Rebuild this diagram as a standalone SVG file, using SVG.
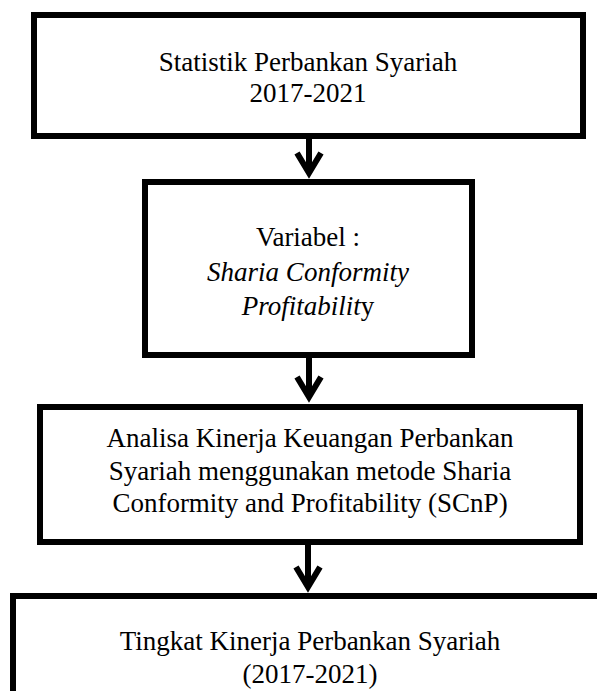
<svg xmlns="http://www.w3.org/2000/svg" width="597" height="691" viewBox="0 0 597 691">
<style>
.box{fill:#fff;stroke:#000;stroke-width:6}
.t{font-family:"Liberation Serif","Times New Roman",serif;font-size:27px;fill:#000;text-anchor:middle}
.i{font-style:italic}
.c{fill:none;stroke:#000;stroke-width:6}
</style>
<defs>
<marker id="ah" markerUnits="userSpaceOnUse" orient="auto" refX="0" refY="0" markerWidth="40" markerHeight="40" overflow="visible">
<path d="M-20,-12 L0,0 L-20,12" fill="none" stroke="#000" stroke-width="6" stroke-linejoin="miter" stroke-miterlimit="10"/>
</marker>
</defs>
<rect width="597" height="691" fill="#fff"/>
<g id="n1">
<rect class="box" x="34" y="15" width="549" height="121"/>
<text class="t" x="308" y="71">Statistik Perbankan Syariah</text>
<text class="t" x="308" y="102">2017-2021</text>
</g>
<g id="n2">
<rect class="box" x="145" y="182" width="327" height="173"/>
<text class="t" x="308" y="246">Variabel :</text>
<text class="t i" x="308" y="281">Sharia Conformity</text>
<text class="t" x="308" y="315"><tspan class="i">Profitabilit</tspan>y</text>
</g>
<g id="n3">
<rect class="box" x="40" y="407" width="540" height="135"/>
<text class="t" x="310" y="447">Analisa Kinerja Keuangan Perbankan</text>
<text class="t" x="310" y="480">Syariah menggunakan metode Sharia</text>
<text class="t" x="310" y="512">Conformity and Profitability (SCnP)</text>
</g>
<g id="n4">
<rect class="box" x="13" y="596" width="600" height="120"/>
<text class="t" x="310" y="650">Tingkat Kinerja Perbankan Syariah</text>
<text class="t" x="310" y="683">(2017-2021)</text>
</g>
<g id="connectors">
<path class="c" d="M309,139 L309,173" marker-end="url(#ah)"/>
<path class="c" d="M309,358 L309,397" marker-end="url(#ah)"/>
<path class="c" d="M308,545 L308,587" marker-end="url(#ah)"/>
</g>
</svg>
